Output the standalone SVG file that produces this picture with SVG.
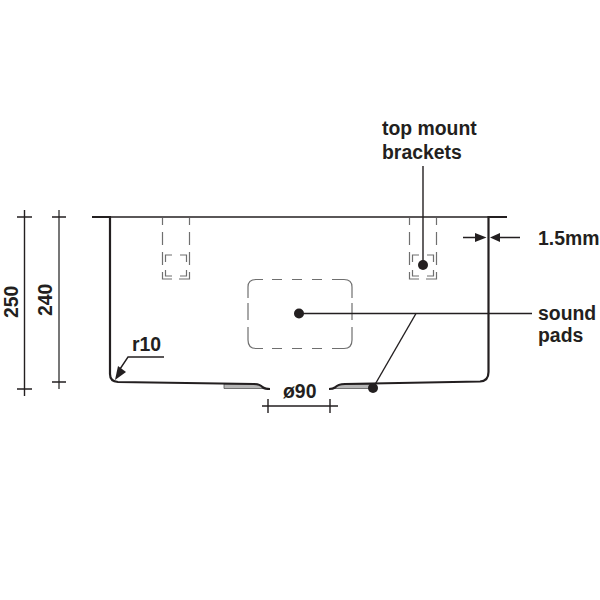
<svg xmlns="http://www.w3.org/2000/svg" width="600" height="600" viewBox="0 0 600 600">
<defs>
<style>
.t{font-family:"Liberation Sans",Arial,sans-serif;font-weight:700;font-size:19.400px;fill:#231f20}
.o{fill:none;stroke:#231f20;stroke-width:2.200}
.d{fill:none;stroke:#6f6f6f;stroke-width:1.200}
.l{fill:none;stroke:#231f20;stroke-width:1.400}
.g{fill:#b5b5b5;stroke:#555;stroke-width:.8}
.k{fill:#231f20}
</style>
</defs>
<g id="sink">
<path class="g" d="M224 384H258L266 388.500H224Z"/>
<path class="g" d="M333 388.500L340 384.500H372V388.500Z"/>
<path class="o" d="M92 217H110V374Q110 381.500 118 382L254 384Q260 384 263 387.500Q265 389 270 389"/>
<path class="o" d="M507 217H488.500V372Q488.500 381 480 381.500L345 384Q338 384 335 387.500Q333 389 329 389"/>
<path class="l" d="M110 217H488"/>
</g>
<g id="bracket-left">
<path class="d" d="M162.500 218V225M162.500 232V245M162.500 252V265M162.500 272V279H172M179 279H189.500V272M189.500 265V252M189.500 245V232M189.500 225V218"/>
<path class="d" d="M165.500 262V255H172M180 255H186.500V262M165.500 270V276H172M180 276H186.500V270"/>
</g>
<g id="bracket-right">
<path class="d" d="M409.500 218V225M409.500 232V245M409.500 252V265M409.500 272V279H419M426 279H436.500V272M436.500 265V252M436.500 245V232M436.500 225V218"/>
<path class="d" d="M412.500 262V255H419M427 255H433.500V262M412.500 270V276H419M427 276H433.500V270"/>
</g>
<g id="sound-pad">
<path class="d" d="M248 298V287Q248 279.500 256 279.500H263M272 279.500H282M292 279.500H302M312 279.500H322M332 279.500H344Q352 279.500 352 287V298M352 303V320M352 327V340Q352 348.500 344 348.500H332M322 348.500H312M302 348.500H292M282 348.500H272M263 348.500H256Q248 348.500 248 340V327M248 320V303"/>
</g>
<g id="connectors">
<path class="l" d="M423 166V265"/><circle class="k" cx="423" cy="265" r="5"/>
<path class="l" d="M299 313.500H532"/><circle class="k" cx="299" cy="313.500" r="5"/>
<path class="l" d="M416 313.500L373 388"/><circle class="k" cx="373" cy="388" r="5"/>
<path class="l" d="M463 237.500H478M520 237.500H495"/>
<path class="k" d="M475 233L486.500 237.500L475 242ZM500 233L490 237.500L500 242Z"/>
<path class="l" d="M262 406H338M268 399V413M330 399V413"/>
<path class="l" d="M24.500 210V396M17 217H32M17 389H32"/>
<path class="l" style="stroke:#555;stroke-width:1.600" d="M59 210V389"/>
<path class="l" d="M52 217H66M52 382H66"/>
<path class="l" d="M164 357H128L118 372"/>
<path class="k" d="M115 380L118 366L126 372Z"/>
</g>
<g id="labels">
<text class="t" x="382" y="135">top mount</text>
<text class="t" x="382" y="159">brackets</text>
<text class="t" x="538" y="245">1.5mm</text>
<text class="t" x="538" y="320">sound</text>
<text class="t" x="538" y="342">pads</text>
<text class="t" x="283" y="398">ø90</text>
<text class="t" x="132" y="351">r10</text>
<text class="t" transform="translate(18 318) rotate(-90)">250</text>
<text class="t" transform="translate(52 316) rotate(-90)">240</text>
</g>
</svg>
